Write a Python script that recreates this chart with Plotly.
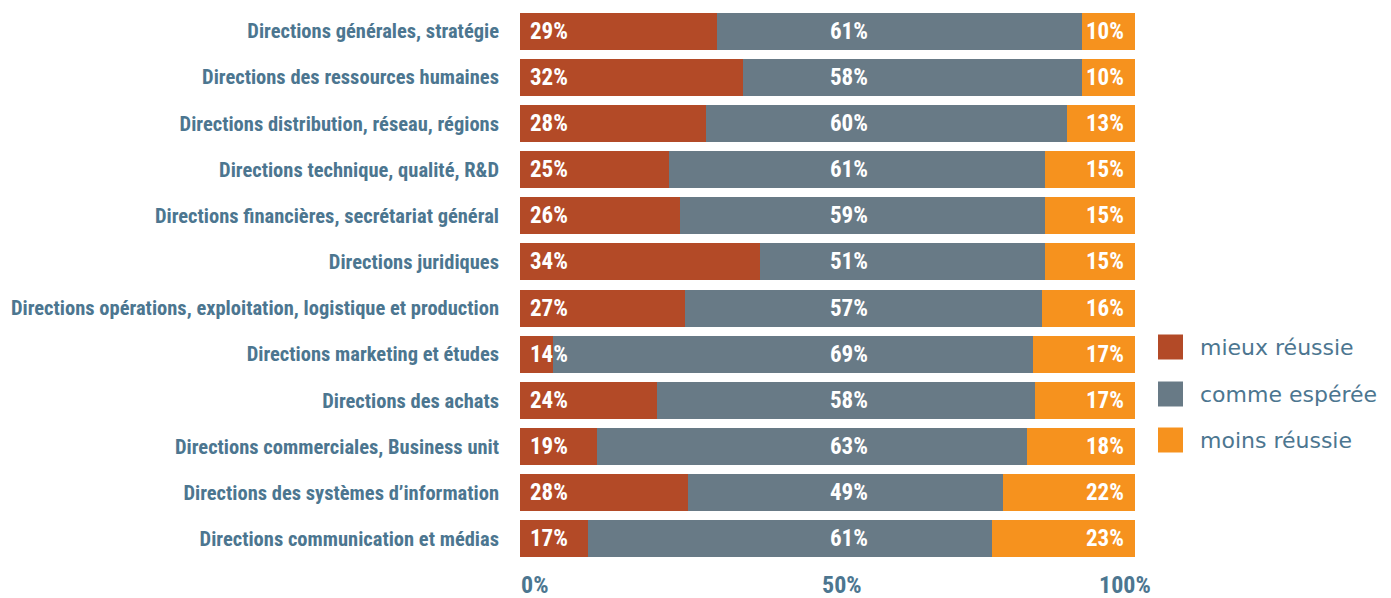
import plotly.graph_objects as go

CATEGORIES = [
    "Directions générales, stratégie",
    "Directions des ressources humaines",
    "Directions distribution, réseau, régions",
    "Directions technique, qualité, R&D",
    "Directions financières, secrétariat général",
    "Directions juridiques",
    "Directions opérations, exploitation, logistique et production",
    "Directions marketing et études",
    "Directions des achats",
    "Directions commerciales, Business unit",
    "Directions des systèmes d’information",
    "Directions communication et médias",
]
SERIES = ["mieux réussie", "comme espérée", "moins réussie"]
COLORS = ["#B34A27", "#687A86", "#F6921E"]

# bar lengths as drawn (share of the full bar)
MIEUX = [32.0, 36.3, 30.2, 24.2, 26.0, 39.0, 26.8, 5.4, 22.3, 12.5, 27.3, 11.1]
COMME = [59.3, 55.1, 58.7, 61.1, 59.3, 46.3, 58.0, 78.0, 61.5, 69.9, 51.2, 65.7]
MOINS = [8.7, 8.7, 11.1, 14.7, 14.7, 14.7, 15.2, 16.7, 16.3, 17.6, 21.5, 23.3]

# printed percentages
MIEUX_LBL = [29, 32, 28, 25, 26, 34, 27, 14, 24, 19, 28, 17]
COMME_LBL = [61, 58, 60, 61, 59, 51, 57, 69, 58, 63, 49, 61]
MOINS_LBL = [10, 10, 13, 15, 15, 15, 16, 17, 17, 18, 22, 23]

TICK_VALS = [0, 50, 100]
TICK_TEXT = ["0%", "50%", "100%"]

# the page body has an 8px margin; figure is sized/positioned to compensate
OFF = 8
W, H = 1391 - OFF, 598 - OFF
ML, MR, MT, MB = 520 - OFF, 256, 0, 598 - 562
COND = "Roboto Condensed, Liberation Sans, sans-serif"
SLATE = "#4C7690"

fig = go.Figure()
for name, vals, col in zip(SERIES, [MIEUX, COMME, MOINS], COLORS):
    fig.add_trace(go.Bar(
        y=CATEGORIES, x=vals, name=name, orientation="h",
        marker=dict(color=col, line=dict(width=0)),
        showlegend=False, hoverinfo="name+x",
    ))

annotations = []
lbl_font = dict(family=COND, size=23, color="white", weight="bold")
for cat, a, b, c in zip(CATEGORIES, MIEUX_LBL, COMME_LBL, MOINS_LBL):
    annotations.append(dict(x=0, y=cat, xref="x", yref="y", text=f"{a}%",
                            xanchor="left", yanchor="middle", xshift=8,
                            showarrow=False, font=lbl_font))
    annotations.append(dict(x=50, y=cat, xref="x", yref="y", text=f"{b}%",
                            xanchor="center", yanchor="middle", xshift=21,
                            showarrow=False, font=lbl_font))
    annotations.append(dict(x=100, y=cat, xref="x", yref="y", text=f"{c}%",
                            xanchor="right", yanchor="middle", xshift=-9,
                            showarrow=False, font=lbl_font))

# x-axis labels
tick_font = dict(family=COND, size=24, color=SLATE, weight="bold")
tick_shift = [14, 14, -10]
for v, t, s in zip(TICK_VALS, TICK_TEXT, tick_shift):
    annotations.append(dict(x=v, y=0, xref="x", yref="paper", text=t,
                            xanchor="center", yanchor="middle", xshift=s, yshift=-23,
                            showarrow=False, font=tick_font))

# manual legend (page pixel positions converted to paper coordinates)
pw = W - ML - MR
ph = H - MT - MB
def px_x(p):
    return (p - OFF - ML) / pw
def px_y(p):
    return (H - MB - (p - OFF)) / ph

shapes = []
leg_centers = [347, 394, 440]
for name, col, cy in zip(SERIES, COLORS, leg_centers):
    shapes.append(dict(type="rect", xref="paper", yref="paper",
                       x0=px_x(1158), x1=px_x(1183),
                       y0=px_y(cy + 12.5), y1=px_y(cy - 12.5),
                       fillcolor=col, line=dict(width=0)))
    annotations.append(dict(x=px_x(1198), y=px_y(cy), xref="paper", yref="paper",
                            text=name, xanchor="left", yanchor="middle", showarrow=False,
                            font=dict(family="DejaVu Sans", size=22, color=SLATE)))

fig.update_layout(
    width=W, height=H,
    margin=dict(l=ML, r=MR, t=MT, b=MB, pad=0, autoexpand=False),
    barmode="stack", bargap=0.2,
    paper_bgcolor="white", plot_bgcolor="white",
    xaxis=dict(range=[0, 100], showgrid=False, zeroline=False, showticklabels=False,
               showline=False, fixedrange=True, automargin=False),
    yaxis=dict(autorange="reversed", showgrid=False, zeroline=False, showline=False,
               ticks="", ticklabelstandoff=20, automargin=False,
               tickfont=dict(family=COND, size=20.5, color=SLATE, weight="bold")),
    annotations=annotations, shapes=shapes,
)

fig.write_html("out.html")
